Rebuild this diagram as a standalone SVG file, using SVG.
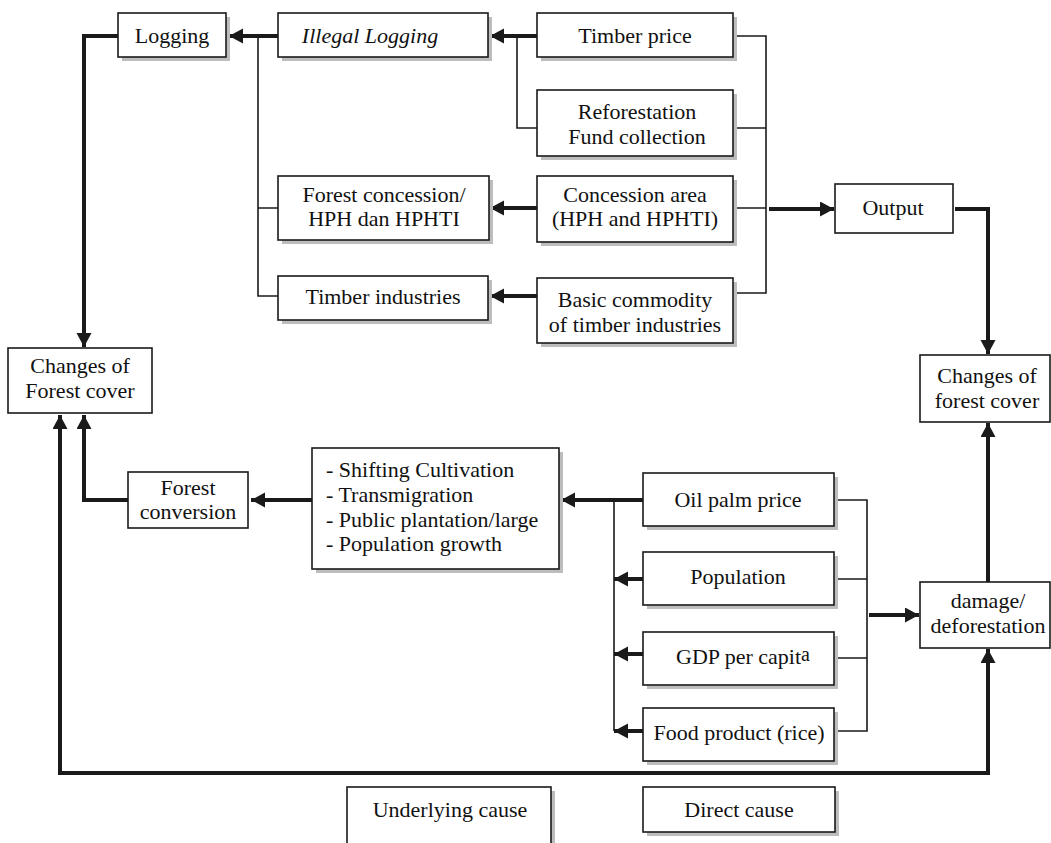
<svg xmlns="http://www.w3.org/2000/svg" width="1051" height="843" viewBox="0 0 1051 843">
<style>
.sh{fill:#bdbdbd;stroke:none}
.bx{fill:#fff;stroke:#1a1a1a;stroke-width:1.6}
.t{font-family:"Liberation Serif","Times New Roman",serif;font-size:22px;fill:#111;text-anchor:middle}
.tl{text-anchor:start}
.it{font-style:italic}
.thin{fill:none;stroke:#1a1a1a;stroke-width:1.6}
.thick{fill:none;stroke:#1a1a1a;stroke-width:4}
</style>
<defs>
<marker id="ah" markerUnits="userSpaceOnUse" markerWidth="16" markerHeight="16" refX="14" refY="7.5" orient="auto">
<path d="M0,0 L14,7.5 L0,15 z" fill="#1a1a1a"/>
</marker>
</defs>
<rect width="1051" height="843" fill="#fff"/>

<g id="connectors">
<path class="thick" d="M278,36 H229" marker-end="url(#ah)"/>
<path class="thin" d="M258,36 V296 H278 M258,208 H278"/>
<path class="thick" d="M537,36 H490" marker-end="url(#ah)"/>
<path class="thin" d="M517,36 V128 H537"/>
<path class="thick" d="M537,208 H490" marker-end="url(#ah)"/>
<path class="thick" d="M537,296 H490" marker-end="url(#ah)"/>
<path class="thin" d="M733,36 H766 V293 H733 M733,128 H766 M733,208 H766"/>
<path class="thick" d="M769,209 H834" marker-end="url(#ah)"/>
<path class="thick" d="M955,209 H988 V354" marker-end="url(#ah)"/>
<path class="thick" d="M118,36 H84 V347" marker-end="url(#ah)"/>
<path class="thick" d="M128,500 H84 V415" marker-end="url(#ah)"/>
<path class="thick" d="M60,773 V415" marker-end="url(#ah)"/>
<path class="thick" d="M58,773 H988 V649" marker-end="url(#ah)"/>
<path class="thick" d="M312,500 H251" marker-end="url(#ah)"/>
<path class="thick" d="M643,500 H561" marker-end="url(#ah)"/>
<path class="thin" d="M614,500 V731"/>
<path class="thick" d="M643,579 H614" marker-end="url(#ah)"/>
<path class="thick" d="M643,654 H614" marker-end="url(#ah)"/>
<path class="thick" d="M643,731 H614" marker-end="url(#ah)"/>
<path class="thin" d="M834,500 H867 V731 H834 M834,579 H867 M834,658 H867"/>
<path class="thick" d="M869,615 H919" marker-end="url(#ah)"/>
<path class="thick" d="M988,582 V423" marker-end="url(#ah)"/>
</g>

<g id="logging">
<rect class="sh" x="122" y="17" width="108" height="44"/>
<rect class="bx" x="118" y="13" width="108" height="44"/>
<text class="t" x="172" y="43">Logging</text>
</g>
<g id="illegal-logging">
<rect class="sh" x="282" y="17" width="210" height="44"/>
<rect class="bx" x="278" y="13" width="210" height="44"/>
<text class="t it" x="370" y="43">Illegal Logging</text>
</g>
<g id="timber-price">
<rect class="sh" x="541" y="17" width="196" height="44"/>
<rect class="bx" x="537" y="13" width="196" height="44"/>
<text class="t" x="635" y="43">Timber price</text>
</g>
<g id="reforestation">
<rect class="sh" x="541" y="94" width="196" height="66"/>
<rect class="bx" x="537" y="90" width="196" height="66"/>
<text class="t" x="637" y="119">Reforestation</text>
<text class="t" x="637" y="144">Fund collection</text>
</g>
<g id="forest-concession">
<rect class="sh" x="282" y="180" width="211" height="64"/>
<rect class="bx" x="278" y="176" width="211" height="64"/>
<text class="t" x="384" y="202">Forest concession/</text>
<text class="t" x="384" y="226">HPH dan HPHTI</text>
</g>
<g id="concession-area">
<rect class="sh" x="541" y="180" width="196" height="66"/>
<rect class="bx" x="537" y="176" width="196" height="66"/>
<text class="t" x="635" y="202">Concession area</text>
<text class="t" x="635" y="226">(HPH and HPHTI)</text>
</g>
<g id="timber-industries">
<rect class="sh" x="282" y="280" width="210" height="44"/>
<rect class="bx" x="278" y="276" width="210" height="44"/>
<text class="t" x="383" y="304">Timber industries</text>
</g>
<g id="basic-commodity">
<rect class="sh" x="541" y="282" width="196" height="65"/>
<rect class="bx" x="537" y="278" width="196" height="65"/>
<text class="t" x="635" y="307">Basic commodity</text>
<text class="t" x="635" y="332">of timber industries</text>
</g>
<g id="output">
<rect class="bx" x="835" y="184" width="118" height="49"/>
<text class="t" x="893" y="215">Output</text>
</g>
<g id="changes-forest-cover-right">
<rect class="bx" x="920" y="355" width="130" height="67"/>
<text class="t" x="987" y="383">Changes of</text>
<text class="t" x="987" y="408">forest cover</text>
</g>
<g id="changes-forest-cover-left">
<rect class="bx" x="8" y="348" width="144" height="65"/>
<text class="t" x="80" y="373">Changes of</text>
<text class="t" x="80" y="398">Forest cover</text>
</g>
<g id="forest-conversion">
<rect class="bx" x="128" y="472" width="120" height="56"/>
<text class="t" x="188" y="495" font-size="21">Forest</text>
<text class="t" x="188" y="519" font-size="21">conversion</text>
</g>
<g id="activities">
<rect class="sh" x="316" y="452" width="247" height="121"/>
<rect class="bx" x="312" y="448" width="247" height="121"/>
<text class="t tl" x="326" y="477">- Shifting Cultivation</text>
<text class="t tl" x="326" y="502">- Transmigration</text>
<text class="t tl" x="326" y="527">- Public plantation/large</text>
<text class="t tl" x="326" y="551">- Population growth</text>
</g>
<g id="oil-palm-price">
<rect class="sh" x="647" y="477" width="191" height="53"/>
<rect class="bx" x="643" y="473" width="191" height="53"/>
<text class="t" x="738" y="507">Oil palm price</text>
</g>
<g id="population">
<rect class="sh" x="647" y="556" width="191" height="53"/>
<rect class="bx" x="643" y="552" width="191" height="53"/>
<text class="t" x="738" y="584">Population</text>
</g>
<g id="gdp">
<rect class="sh" x="647" y="636" width="191" height="53"/>
<rect class="bx" x="643" y="632" width="191" height="53"/>
<text class="t" x="743" y="664">GDP per capit<tspan font-size="20" dy="-3">a</tspan></text>
</g>
<g id="food-product">
<rect class="sh" x="647" y="712" width="191" height="53"/>
<rect class="bx" x="643" y="708" width="191" height="53"/>
<text class="t" x="739" y="740">Food product (rice)</text>
</g>
<g id="damage">
<rect class="bx" x="920" y="582" width="130" height="66"/>
<text class="t" x="988" y="608">damage/</text>
<text class="t" x="988" y="633">deforestation</text>
</g>
<g id="underlying-cause">
<rect class="sh" x="351" y="791" width="204" height="60"/>
<rect class="bx" x="347" y="787" width="204" height="60"/>
<text class="t" x="450" y="817">Underlying cause</text>
</g>
<g id="direct-cause">
<rect class="sh" x="647" y="791" width="192" height="45"/>
<rect class="bx" x="643" y="787" width="192" height="45"/>
<text class="t" x="739" y="817">Direct cause</text>
</g>
</svg>
